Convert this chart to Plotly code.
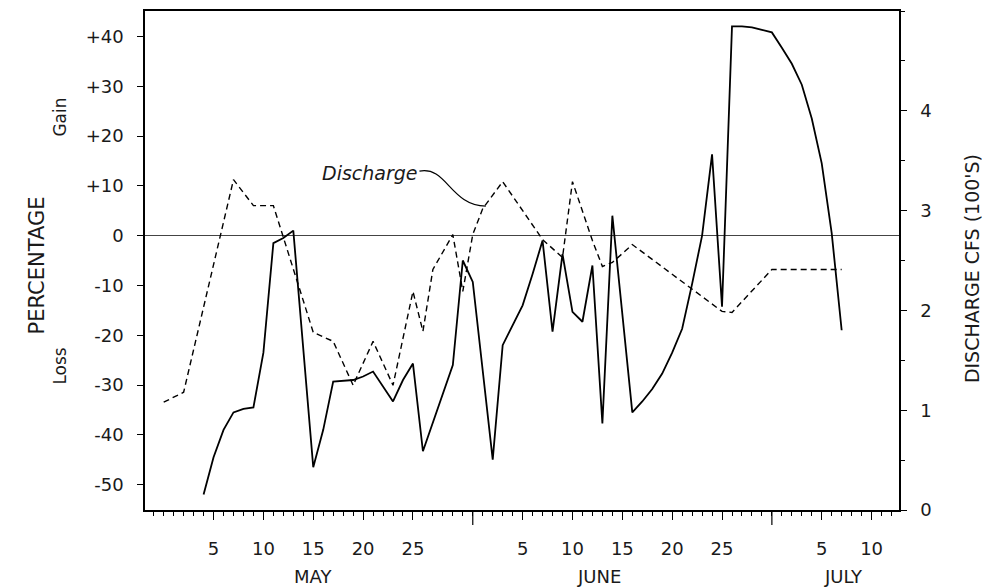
import plotly.graph_objects as go

YEAR = "1960"

# Percentage gain (+) / loss (-)  -- solid line, left axis
pct_dates = ["05-04", "05-05", "05-06", "05-07", "05-08", "05-09", "05-10", "05-11", "05-12", "05-13",
             "05-15", "05-16", "05-17", "05-18", "05-19", "05-20", "05-21", "05-23", "05-24", "05-25",
             "05-26", "05-29", "05-30", "05-31", "06-02", "06-03", "06-04", "06-05", "06-06", "06-07",
             "06-08", "06-09", "06-10", "06-11", "06-12", "06-13", "06-14", "06-16", "06-17", "06-18",
             "06-19", "06-20", "06-21", "06-22", "06-23", "06-24", "06-25", "06-26", "06-27", "06-28",
             "06-29", "06-30", "07-01", "07-02", "07-03", "07-04", "07-05", "07-06", "07-07"]
pct_values = [-52, -44.5, -39, -35.5, -34.8, -34.5, -23.5, -1.5, -0.5, 1,
              -46.5, -39, -29.3, -29.2, -29, -28.3, -27.3, -33.3, -29, -25.7,
              -43.3, -26, -5, -9.3, -45, -22, -18, -14, -7.7, -1,
              -19.3, -3.7, -15.3, -17.3, -6, -37.7, 4, -35.5, -33.3, -30.8,
              -27.7, -23.5, -18.7, -9.7, 0, 16.3, -14.3, 42, 42, 41.8,
              41.3, 40.8, 37.7, 34.5, 30.3, 23.5, 14.5, 0.5, -19]

# Discharge, cfs (100's) -- dashed line, right axis
dis_dates = ["04-30", "05-02", "05-07", "05-09", "05-11", "05-15", "05-17", "05-19", "05-21", "05-23",
             "05-25", "05-26", "05-27", "05-29", "05-30", "05-31", "06-01", "06-03", "06-07", "06-09",
             "06-10", "06-11", "06-12", "06-13", "06-14", "06-16", "06-25", "06-26", "06-30", "07-07"]
dis_values = [1.08, 1.18, 3.31, 3.05, 3.05, 1.78, 1.69, 1.25, 1.69, 1.25,
              2.19, 1.79, 2.41, 2.76, 2.19, 2.76, 3.02, 3.29, 2.71, 2.53,
              3.29, 3.0, 2.7, 2.44, 2.48, 2.66, 1.99, 1.98, 2.41, 2.41]

left_tick_vals = [-50, -40, -30, -20, -10, 0, 10, 20, 30, 40]
left_tick_text = ["-50", "-40", "-30", "-20", "-10", "0", "+10", "+20", "+30", "+40"]
right_tick_vals = [0, 1, 2, 3, 4]
right_tick_text = ["0", "1", "2", "3", "4"]
x_tick_dates = ["05-05", "05-10", "05-15", "05-20", "05-25",
                "06-05", "06-10", "06-15", "06-20", "06-25", "07-05", "07-10"]
x_tick_text = ["5", "10", "15", "20", "25", "5", "10", "15", "20", "25", "5", "10"]
month_names = ["MAY", "JUNE", "JULY"]
month_label_dates = ["05-15T00:00", "06-12T15:00", "07-07T05:00"]
month_end_dates = ["05-31", "06-30"]


def d(s):
    return f"{YEAR}-{s}"


FONT = "DejaVu Sans"
INK = "#1a1a1a"

fig = go.Figure()
fig.add_trace(go.Scatter(x=[d(s) for s in pct_dates], y=pct_values, mode="lines",
                         line=dict(color="black", width=1.8), yaxis="y", name="Percentage"))
fig.add_trace(go.Scatter(x=[d(s) for s in dis_dates], y=dis_values, mode="lines",
                         line=dict(color="black", width=1.4, dash="6px,4px"), yaxis="y2",
                         name="Discharge"))

fig.update_layout(
    width=982, height=580, autosize=False,
    margin=dict(l=137, r=91, t=1, b=78),
    paper_bgcolor="white", plot_bgcolor="white", showlegend=False,
    font=dict(family=FONT, size=18, color=INK),
    xaxis=dict(
        type="date", range=[d("04-28T03:00"), d("07-12T18:00")],
        tickmode="array", tickvals=[d(s) for s in x_tick_dates], ticktext=x_tick_text,
        ticks="outside", ticklen=8, tickwidth=1, tickcolor="black",
        ticklabelstandoff=14,
        minor=dict(dtick=86400000, tick0=d("05-01"), ticks="outside", ticklen=4,
                   tickcolor="black", tickwidth=1),
        showline=True, mirror=True, linecolor="black", linewidth=1.5,
        showgrid=False, zeroline=False, tickfont=dict(size=18),
    ),
    yaxis=dict(
        range=[-55.1, 45.1], tickmode="array", tickvals=left_tick_vals, ticktext=left_tick_text,
        ticks="outside", ticklen=6, tickcolor="black", ticklabelstandoff=10,
        showline=True, mirror=True, linecolor="black", linewidth=1.5,
        showgrid=False, zeroline=True, zerolinecolor="#444", zerolinewidth=1,
        tickfont=dict(size=18),
    ),
    yaxis2=dict(
        overlaying="y", side="right", range=[0, 5.0],
        tickmode="array", tickvals=right_tick_vals, ticktext=right_tick_text,
        ticks="outside", ticklen=6, tickcolor="black", ticklabelstandoff=10,
        minor=dict(dtick=0.5, tick0=0, ticks="outside", ticklen=4, tickcolor="black"),
        showline=True, linecolor="black", linewidth=1.5,
        showgrid=False, zeroline=False, tickfont=dict(size=18),
    ),
)

# long ticks at month boundaries
for me in month_end_dates:
    fig.add_shape(type="line", xref="x", yref="paper", x0=d(me), x1=d(me), y0=0, y1=-0.03,
                  line=dict(color="black", width=1.2))

annotations = []
for name, md in zip(month_names, month_label_dates):
    annotations.append(dict(x=d(md), y=-0.133, xref="x", yref="paper", text=name,
                            showarrow=False, font=dict(size=18, family=FONT, color=INK),
                            xanchor="center", yanchor="middle"))
annotations += [
    dict(x=-0.142, y=0.49, xref="paper", yref="paper", text="PERCENTAGE", textangle=-90,
         xanchor="center", yanchor="middle",
         showarrow=False, font=dict(size=21, family=FONT, color=INK)),
    dict(x=-0.113, y=0.788, xref="paper", yref="paper", text="Gain", textangle=-90,
         xanchor="center", yanchor="middle",
         showarrow=False, font=dict(size=17, family=FONT, color=INK)),
    dict(x=-0.113, y=0.289, xref="paper", yref="paper", text="Loss", textangle=-90,
         xanchor="center", yanchor="middle",
         showarrow=False, font=dict(size=17, family=FONT, color=INK)),
    dict(x=1.097, y=0.483, xref="paper", yref="paper", text="DISCHARGE CFS (100'S)",
         textangle=-90, xanchor="center", yanchor="middle",
         showarrow=False, font=dict(size=19, family=FONT, color=INK)),
    dict(x=0.298, y=0.675, xref="paper", yref="paper", text="<i>Discharge</i>",
         xanchor="center", yanchor="middle",
         showarrow=False, font=dict(size=19, family=FONT, color=INK)),
]
fig.update_layout(annotations=annotations)

# curved leader from the label to the discharge line
fig.add_shape(type="path", xref="paper", yref="paper",
              path="M 0.364,0.679 C 0.40,0.69 0.405,0.61 0.452,0.609",
              line=dict(color="black", width=1.2))

fig.write_html("out.html")
